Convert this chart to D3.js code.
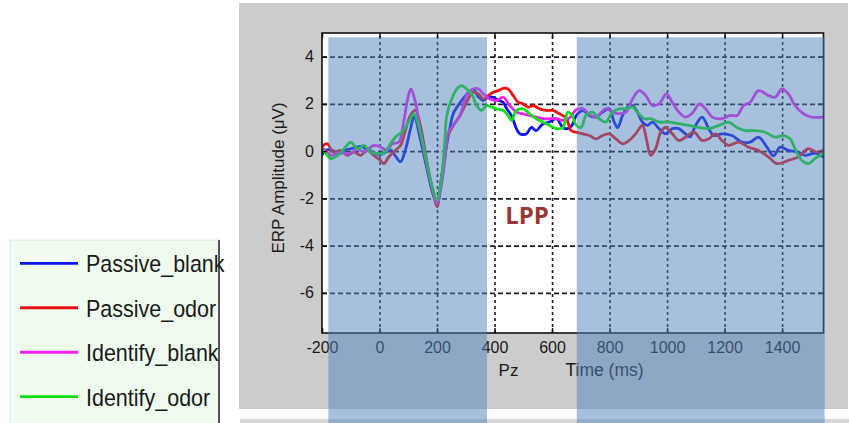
<!DOCTYPE html>
<html>
<head>
<meta charset="utf-8">
<script src="https://cdn.jsdelivr.net/npm/d3@7"></script>
<style>
  html, body { margin: 0; padding: 0; background: #ffffff; }
  svg { display: block; }
  text { font-family: "Liberation Sans", Arial, sans-serif; }
</style>
</head>
<body>
<svg id="chart" width="849" height="423"></svg>
<script>
// ---------------- DATA ----------------
const xTicks = [-200, 0, 200, 400, 600, 800, 1000, 1200, 1400];
const yTicks = [-6, -4, -2, 0, 2, 4];
const xDomain = [-200, 1544];
const yDomain = [-7.7, 5];

const seriesNames = ["Passive_blank", "Passive_odor", "Identify_blank", "Identify_odor"];
const seriesColors = ["#0a14f0", "#f01010", "#f020f0", "#12e012"];

// [time (ms), amplitude (µV)]
const passiveBlank = [[-200,-0.15],[-185,0.05],[-169,0.05],[-150,-0.05],[-135,-0.1],[-118,0.05],[-100,0.1],[-83,0.15],[-66,0.2],[-48,0.1],[-31,0],[-14,-0.1],[4,-0.15],[20,-0.05],[38,0.05],[55,-0.2],[73,-0.45],[90,0.05],[107,0.9],[121,1.45],[142,0.5],[165,-0.75],[188,-1.9],[200,-2.15],[217,-1.0],[230,0.0],[245,1.0],[257,1.6],[280,2.05],[303,2.4],[326,2.6],[344,2.3],[361,2.15],[378,2.28],[395,2.28],[413,2.15],[430,2.07],[442,1.8],[459,1.5],[476,0.95],[488,0.73],[500,0.7],[511,0.73],[528,1.0],[545,0.87],[568,1.15],[591,1.23],[615,1.37],[638,1.0],[655,0.95],[670,1.1],[684,1.5],[707,1.72],[730,1.5],[753,1.44],[776,1.65],[799,1.79],[816,1.23],[828,1.0],[845,1.5],[862,1.85],[880,1.93],[897,1.65],[914,1.23],[932,1.09],[949,1.23],[972,0.95],[995,0.73],[1018,0.95],[1041,0.95],[1064,0.73],[1080,0.6],[1099,1.09],[1122,1.44],[1145,0.95],[1162,0.66],[1191,0.73],[1226,0.66],[1260,0.38],[1289,0.38],[1318,0.59],[1347,0.17],[1370,-0.2],[1393,0.17],[1422,0.03],[1456,-0.04],[1480,-0.18],[1514,-0.1],[1544,-0.25]];

const passiveOdor = [[-200,0.2],[-181,0.31],[-170,0.1],[-158,-0.04],[-135,0.03],[-112,-0.18],[-89,-0.04],[-66,-0.18],[-43,0.03],[-20,-0.18],[4,-0.4],[15,-0.53],[32,-0.25],[55,0.03],[73,0.24],[90,0.87],[107,1.5],[125,1.72],[142,1.09],[165,-0.47],[188,-1.87],[200,-2.36],[213,-1.45],[225,-0.2],[234,0.53],[257,1.09],[280,1.51],[303,2.07],[326,2.49],[344,2.42],[361,2.21],[378,2.35],[395,2.49],[413,2.56],[430,2.66],[447,2.63],[465,2.35],[482,2.07],[499,2.0],[517,1.86],[534,1.93],[557,1.79],[580,1.72],[603,1.72],[626,1.58],[649,1.4],[666,0.87],[684,0.8],[707,0.73],[730,0.66],[753,0.52],[776,0.66],[799,0.73],[822,0.52],[845,0.31],[868,0.45],[891,0.73],[914,1.09],[928,0.52],[943,-0.18],[960,0.1],[978,0.8],[995,1.0],[1018,0.73],[1041,0.45],[1064,0.59],[1093,0.8],[1122,0.45],[1145,0.52],[1168,0.73],[1191,0.45],[1214,0.24],[1249,0.38],[1283,0.17],[1318,0.03],[1353,-0.25],[1382,-0.53],[1422,-0.39],[1456,-0.25],[1491,0.1],[1520,-0.04],[1544,0.03]];

const identifyBlank = [[-200,0.15],[-185,0.0],[-169,-0.18],[-150,-0.1],[-135,-0.04],[-118,-0.1],[-100,-0.1],[-77,0.1],[-54,-0.04],[-37,0.1],[-20,0.24],[4,0.17],[27,0.03],[44,0.31],[67,0.38],[84,1.23],[98,2.21],[109,2.63],[125,2.07],[142,0.8],[165,-0.6],[188,-1.8],[200,-2.22],[217,-1.31],[228,-0.3],[240,0.8],[257,1.09],[280,1.51],[303,2.35],[326,2.63],[344,2.63],[361,2.42],[384,2.21],[407,2.14],[430,2.28],[453,1.93],[476,1.65],[499,1.58],[522,1.51],[545,1.44],[568,1.37],[591,1.37],[615,1.37],[638,1.3],[660,1.4],[684,1.75],[707,1.8],[730,1.55],[753,1.44],[787,1.79],[822,1.6],[857,1.65],[880,2.21],[903,2.56],[926,2.35],[949,1.93],[972,2.0],[998,2.42],[1018,2.07],[1041,1.65],[1064,1.44],[1087,1.6],[1113,2.0],[1134,1.79],[1157,1.44],[1191,1.37],[1220,1.51],[1243,1.5],[1266,1.93],[1289,2.07],[1318,2.56],[1353,2.35],[1376,2.28],[1399,2.63],[1422,2.42],[1445,1.93],[1474,1.58],[1503,1.44],[1544,1.44]];

const identifyOdor = [[-200,0.1],[-187,-0.1],[-169,-0.32],[-146,-0.18],[-123,0.1],[-100,0.38],[-77,0.1],[-54,0.24],[-31,-0.04],[-8,-0.1],[15,-0.1],[38,0.31],[61,0.66],[78,0.8],[101,1.23],[119,1.58],[136,1.09],[159,-0.18],[182,-1.45],[200,-2.08],[217,-1.0],[226,0.2],[234,1.51],[251,2.21],[269,2.63],[286,2.77],[303,2.63],[321,2.42],[338,1.93],[355,1.72],[372,1.93],[390,1.86],[407,1.79],[430,1.72],[447,1.51],[459,1.3],[476,1.72],[499,1.79],[522,1.58],[545,1.37],[568,1.23],[591,1.09],[615,0.95],[638,1.0],[655,1.65],[670,1.5],[684,1.09],[701,1.0],[718,1.51],[741,1.65],[764,1.37],[787,1.23],[810,1.65],[834,1.79],[857,1.79],[880,1.86],[897,1.65],[920,1.37],[943,1.37],[972,1.23],[1006,1.23],[1041,1.16],[1076,1.09],[1110,1.0],[1145,0.95],[1180,1.09],[1214,1.23],[1243,1.0],[1272,0.87],[1307,0.87],[1341,0.8],[1376,0.59],[1405,0.66],[1428,0.52],[1445,0.1],[1468,-0.39],[1491,-0.53],[1514,-0.32],[1544,-0.1]];

const seriesData = [passiveBlank, passiveOdor, identifyBlank, identifyOdor];

// shaded time windows (ms) and LPP annotation
const shadeWindows = [[-178, 374], [686, 1548]];
const shadeTop = 4.82;
const lppLabel = { text: "LPP", t: 437, v: -3.07 };

// ---------------- LAYOUT ----------------
const W = 849, H = 423;
const plot = { left: 322, right: 823.5, top: 33, bottom: 333 };
const fmt = d => String(d);   // plain hyphen minus, no thousands separator

const svg = d3.select("#chart");
const x = d3.scaleLinear().domain(xDomain).range([plot.left, plot.right]);
const y = d3.scaleLinear().domain(yDomain).range([plot.bottom, plot.top]);

// figure background
svg.append("rect").attr("x", 239).attr("y", 3).attr("width", 609).attr("height", 406).attr("fill", "#cccccc");
svg.append("rect").attr("x", 240).attr("y", 419).attr("width", 609).attr("height", 4).attr("fill", "#d6d6d6");

// plot background
svg.append("rect").attr("x", plot.left).attr("y", plot.top)
  .attr("width", plot.right - plot.left).attr("height", plot.bottom - plot.top).attr("fill", "#ffffff");

// grid
const gridG = svg.append("g").attr("class", "grid");
gridG.append("g").attr("transform", `translate(0,${plot.bottom})`)
  .call(d3.axisBottom(x).tickValues(xTicks.slice(1)).tickSize(-(plot.bottom - plot.top)).tickFormat(""))
  .call(g => g.select(".domain").remove())
  .call(g => g.selectAll("line").attr("stroke", "#1a1a2a").attr("stroke-width", 1.6).attr("stroke-dasharray", "3,3"));
gridG.append("g").attr("transform", `translate(${plot.left},0)`)
  .call(d3.axisLeft(y).tickValues(yTicks).tickSize(-(plot.right - plot.left)).tickFormat(""))
  .call(g => g.select(".domain").remove())
  .call(g => g.selectAll("line").attr("stroke", "#1a1a2a").attr("stroke-width", 1.6).attr("stroke-dasharray", "5,3"));

// clip
svg.append("clipPath").attr("id", "clip").append("rect")
  .attr("x", plot.left).attr("y", plot.top).attr("width", plot.right - plot.left).attr("height", plot.bottom - plot.top);

const line = d3.line().x(d => x(d[0])).y(d => y(d[1])).curve(d3.curveCatmullRom.alpha(0.5));
const linesG = svg.append("g").attr("clip-path", "url(#clip)");
seriesData.forEach((s, i) => {
  linesG.append("path").datum(s).attr("d", line)
    .attr("fill", "none").attr("stroke", seriesColors[i]).attr("stroke-width", 2.8)
    .attr("stroke-linejoin", "round").attr("stroke-linecap", "round");
});

// axes (inward ticks, MATLAB style)
const axisStyle = g => {
  g.select(".domain").remove();
  g.selectAll("line").attr("stroke", "#111").attr("stroke-width", 1.5);
  g.selectAll("text").attr("fill", "#1a1a1a").style("font-size", "16px")
    .style("font-family", "'Liberation Sans', Arial, sans-serif");
};
svg.append("g").attr("transform", `translate(0,${plot.bottom})`)
  .call(d3.axisBottom(x).tickValues(xTicks).tickFormat(fmt).tickSizeInner(-5).tickSizeOuter(0).tickPadding(9))
  .call(axisStyle);
svg.append("g").attr("transform", `translate(0,${plot.top})`)
  .call(d3.axisTop(x).tickValues(xTicks).tickSizeInner(-5).tickSizeOuter(0).tickFormat(""))
  .call(axisStyle);
svg.append("g").attr("transform", `translate(${plot.left},0)`)
  .call(d3.axisLeft(y).tickValues(yTicks).tickFormat(fmt).tickSizeInner(-5).tickSizeOuter(0).tickPadding(8))
  .call(axisStyle);
svg.append("g").attr("transform", `translate(${plot.right},0)`)
  .call(d3.axisRight(y).tickValues(yTicks).tickSizeInner(-5).tickSizeOuter(0).tickFormat(""))
  .call(axisStyle);

// frame
svg.append("rect").attr("x", plot.left).attr("y", plot.top)
  .attr("width", plot.right - plot.left).attr("height", plot.bottom - plot.top)
  .attr("fill", "none").attr("stroke", "#111").attr("stroke-width", 1.6);

// axis titles
svg.append("text").attr("x", 508.5).attr("y", 375.5).attr("text-anchor", "middle")
  .style("font-size", "17px").attr("fill", "#1a1a1a").text("Pz");
svg.append("text").attr("x", 604.5).attr("y", 376).attr("text-anchor", "middle")
  .style("font-size", "17.5px").attr("fill", "#1a1a1a").text("Time (ms)");
svg.append("text").attr("transform", "translate(284,178) rotate(-90)").attr("text-anchor", "middle")
  .style("font-size", "17px").attr("fill", "#1a1a1a").text("ERP Amplitude (\u03bcV)");

// shaded windows drawn on top
shadeWindows.forEach(w => {
  svg.append("rect").attr("x", x(w[0])).attr("y", y(shadeTop))
    .attr("width", x(w[1]) - x(w[0])).attr("height", H - y(shadeTop))
    .attr("fill", "#4f81bd").attr("fill-opacity", 0.5);
});

// LPP label
svg.append("text").attr("x", x(lppLabel.t)).attr("y", y(lppLabel.v))
  .style("font-family", "'Open Sans', 'Liberation Sans', sans-serif")
  .style("font-weight", "bold").style("font-size", "24px").attr("fill", "#953735").text(lppLabel.text);

// legend
const leg = svg.append("g");
leg.append("rect").attr("x", 10).attr("y", 240).attr("width", 209).attr("height", 190)
  .attr("fill", "#effbee").attr("stroke", "#dfe6df").attr("stroke-width", 1);
const legY = d3.scalePoint().domain(seriesNames).range([263.3, 396.7]);
seriesNames.forEach((n, i) => {
  leg.append("line").attr("x1", 20).attr("x2", 78).attr("y1", legY(n)).attr("y2", legY(n))
    .attr("stroke", seriesColors[i]).attr("stroke-width", 2.8);
  leg.append("text")
    .attr("transform", `translate(86,${legY(n) + 9}) scale(1,1.08)`)
    .style("font-size", "21.5px").attr("fill", "#1a1a1a").text(n);
});
leg.append("line").attr("x1", 219).attr("x2", 219).attr("y1", 240).attr("y2", 423)
  .attr("stroke", "#222").attr("stroke-width", 1.5);
</script>
</body>
</html>
